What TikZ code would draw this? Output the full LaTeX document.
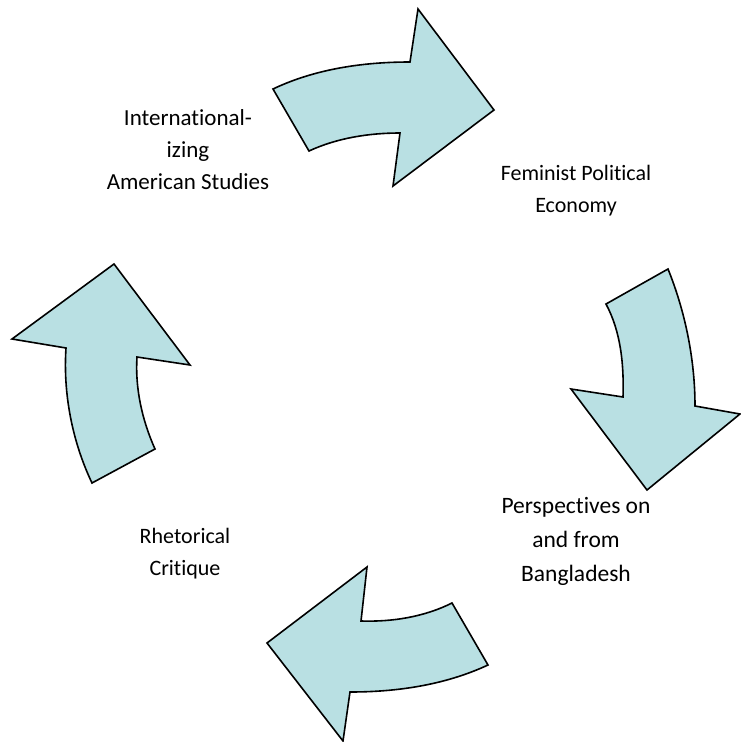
\documentclass[tikz,border=0pt]{standalone}
\usepackage{fontspec}
\setmainfont{Carlito}[Ligatures={NoCommon,NoContextual}]
\definecolor{arrowfill}{RGB}{185,224,227}
\begin{document}
\begin{tikzpicture}[x=1pt,y=-1pt,
  cyclearrow/.style={draw=black,fill=arrowfill,line width=1.6pt,line join=miter},
  label/.style={align=center,font=\fontsize{22}{32}\selectfont,inner sep=0pt}]
\useasboundingbox (0,0) rectangle (741,742);

% top arrow, pointing right
\draw[cyclearrow] (273,89) .. controls (315,69) and (363,62) .. (410,62)
  -- (418,9) -- (494,110) -- (393,186) -- (400,133)
  .. controls (369,133) and (337,138) .. (309,151) -- cycle;

% right arrow, pointing down
\draw[cyclearrow] (668,269) .. controls (685,311) and (695,359) .. (695,406)
  -- (740,414) -- (647,490) -- (571,389) -- (623,397)
  .. controls (624,365) and (621,332) .. (606,304) -- cycle;

% bottom arrow, pointing left
\draw[cyclearrow] (488,665) .. controls (445,685) and (397,692) .. (350,692)
  -- (343,741) -- (267,643) -- (367,567) -- (361,621)
  .. controls (392,622) and (424,617) .. (452,603) -- cycle;

% left arrow, pointing up
\draw[cyclearrow] (92,483) .. controls (72,441) and (63,393) .. (66,348)
  -- (12,339) -- (114,264) -- (190,365) -- (137,357)
  .. controls (135,388) and (142,420) .. (155,449) -- cycle;

% stage labels
\node[label,font=\fontsize{23}{32}\selectfont] (ias) at (188,150) {International-\\izing\\American Studies};
\node[label] (fpe) at (576,191) {Feminist Political\\Economy};
\node[label,font=\fontsize{23.5}{34}\selectfont] (bgd) at (576,541) {Perspectives on\\and from\\Bangladesh};
\node[label] (rc) at (185,554) {Rhetorical\\Critique};
\end{tikzpicture}
\end{document}
